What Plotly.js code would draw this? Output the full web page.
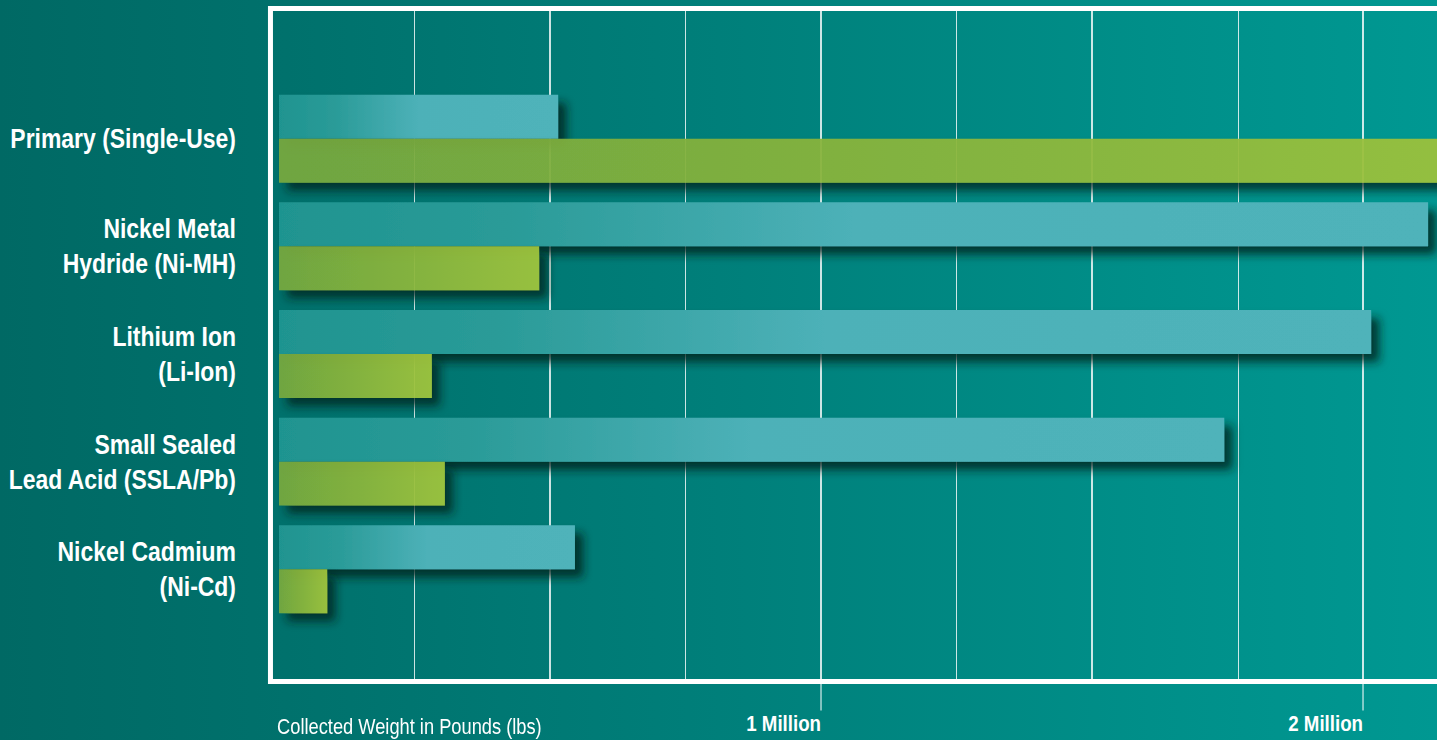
<!DOCTYPE html>
<html>
<head>
<meta charset="utf-8">
<script src="https://cdn.plot.ly/plotly-3.0.1.min.js"></script>
<style>
  html, body { margin:0; padding:0; width:1437px; height:740px; overflow:hidden; }
  body { background: linear-gradient(90deg, #006964 0%, #00716c 20%, #007f7a 50%, #008f89 80%, #009892 100%); }
  #chart { width:1437px; height:740px; }
</style>
</head>
<body>
<div id="chart"></div>
<script>
const categories = [
  'Primary (Single-Use)',
  'Nickel Metal<br>Hydride (Ni-MH)',
  'Lithium Ion<br>(Li-Ion)',
  'Small Sealed<br>Lead Acid (SSLA/Pb)',
  'Nickel Cadmium<br>(Ni-Cd)'
];
const tealValues  = [515000, 2120000, 2015000, 1744000, 546000];
const greenValues = [2400000, 480000, 282000, 306000, 89000];
const gridTicks   = [250000, 500000, 750000, 1000000, 1250000, 1500000, 1770000, 2000000];
const tickLabels  = ['', '', '', '1 Million', '', '', '', '2 Million'];
const axisTitle   = 'Collected Weight in Pounds (lbs)';
const majorTicks  = [1000000, 2000000];

const FONT = '"Liberation Sans", Arial, sans-serif';
const CONDENSE = 0.85;

const traces = [
  { type:'bar', orientation:'h', name:'Series 1', y:categories, x:tealValues,
    marker:{ color:'#4db1b8', line:{width:0} }, hoverinfo:'x+y' },
  { type:'bar', orientation:'h', name:'Series 2', y:categories, x:greenValues,
    marker:{ color:'#8fbc3e', line:{width:0} }, opacity:0.95, hoverinfo:'x+y' }
];

const shapes = [
  { type:'rect', xref:'paper', yref:'paper', x0:-0.0039, x1:1.02, y0:-0.0037, y1:1.0037,
    line:{ color:'#ffffff', width:5 }, fillcolor:'rgba(0,0,0,0)', layer:'above' }
];
majorTicks.forEach(v => shapes.push({
  type:'line', xref:'x', yref:'paper', x0:v, x1:v, y0:-0.0075, y1:-0.047,
  line:{ color:'rgba(255,255,255,0.85)', width:1.2 }
}));

const layout = {
  width:1437, height:740,
  margin:{ l:275, r:0, t:11, b:61 },
  paper_bgcolor:'rgba(0,0,0,0)', plot_bgcolor:'rgba(0,0,0,0)',
  barmode:'group', bargap:0.183, bargroupgap:0,
  showlegend:false,
  font:{ family:FONT, color:'#ffffff' },
  xaxis:{
    range:[-7400, 2136500], tickmode:'array', tickvals:gridTicks, ticktext:tickLabels,
    showgrid:true, gridcolor:'rgba(255,255,255,0.8)', gridwidth:1.5,
    zeroline:false, showline:false, ticks:'', ticklabelposition:'outside left',
    ticklabelstandoff:29, tickfont:{ family:FONT, size:22, color:'#ffffff', weight:'bold' },
    fixedrange:true
  },
  yaxis:{
    type:'category', range:[5.019, -1.186], showgrid:false, zeroline:false, showline:false,
    ticks:'', ticklabelstandoff:38,
    tickfont:{ family:FONT, size:27, color:'#ffffff', weight:'bold' }, fixedrange:true
  },
  shapes:shapes,
  annotations:[
    { text:axisTitle, xref:'paper', yref:'paper', x:0, y:-0.072, xanchor:'left', yanchor:'middle',
      showarrow:false, font:{ family:FONT, size:21.5, color:'#ffffff' } }
  ]
};

Plotly.newPlot('chart', traces, layout, { displayModeBar:false, staticPlot:true }).then(gd => {
  const svg = gd.querySelector('.main-svg');
  const NS = 'http://www.w3.org/2000/svg';
  let defs = svg.querySelector('defs');
  if (!defs) { defs = document.createElementNS(NS, 'defs'); svg.insertBefore(defs, svg.firstChild); }
  function grad(id, stops) {
    const g = document.createElementNS(NS, 'linearGradient');
    g.setAttribute('id', id);
    g.setAttribute('x1', '0'); g.setAttribute('x2', '1'); g.setAttribute('y1', '0'); g.setAttribute('y2', '0');
    stops.forEach(s => {
      const st = document.createElementNS(NS, 'stop');
      st.setAttribute('offset', s[0]); st.setAttribute('stop-color', s[1]);
      g.appendChild(st);
    });
    defs.appendChild(g);
  }
  grad('gTeal', [[0, '#1f9490'], [0.2, '#2a9b98'], [0.5, '#4db1b8'], [1, '#4fb3ba']]);
  grad('gGreen', [[0, '#76a83f'], [1, '#a0c43c']]);
  const f = document.createElementNS(NS, 'filter');
  f.setAttribute('id', 'barShadow');
  f.setAttribute('filterUnits', 'userSpaceOnUse');
  f.setAttribute('x', '-100'); f.setAttribute('y', '-100');
  f.setAttribute('width', '3000'); f.setAttribute('height', '2000');
  const ds = document.createElementNS(NS, 'feDropShadow');
  ds.setAttribute('dx', '8'); ds.setAttribute('dy', '8'); ds.setAttribute('stdDeviation', '5');
  ds.setAttribute('flood-color', '#00201e'); ds.setAttribute('flood-opacity', '0.8');
  f.appendChild(ds); defs.appendChild(f);
  gd.querySelectorAll('.barlayer .trace.bars').forEach((t, i) => {
    t.querySelectorAll('.point path').forEach(p => {
      p.style.fill = i === 0 ? 'url(#gTeal)' : 'url(#gGreen)';
      p.setAttribute('filter', 'url(#barShadow)');
    });
  });
  // condensed look: horizontally compress texts about their anchor edge
  function condense(t, ax) {
    const prev = t.getAttribute('transform') || '';
    t.setAttribute('transform', prev + ` translate(${ax},0) scale(${CONDENSE},1) translate(${-ax},0)`);
  }
  gd.querySelectorAll('.ytick text, .xtick text').forEach(t => {
    condense(t, parseFloat(t.getAttribute('x')) || 0);
  });
  gd.querySelectorAll('.annotation-text').forEach(t => {
    condense(t, t.getBBox().x);
  });
});
</script>
</body>
</html>
